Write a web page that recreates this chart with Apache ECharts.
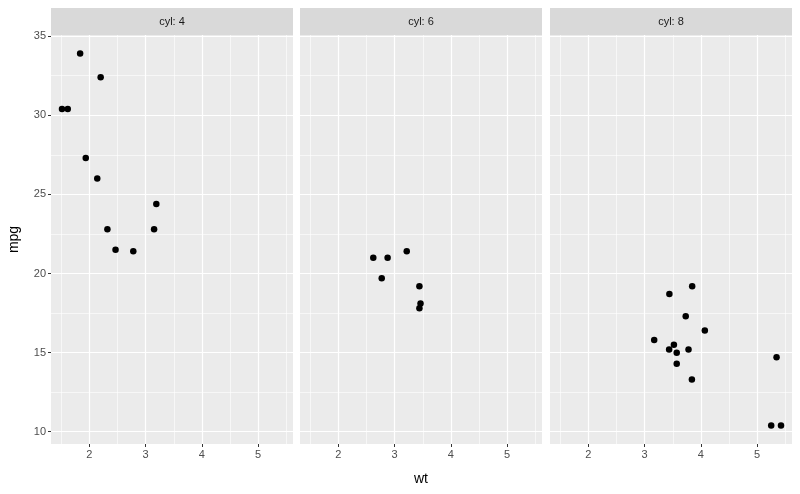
<!DOCTYPE html>
<html style="height: 100%">
<head>
    <meta charset="utf-8">
</head>
<body style="height: 100%; margin: 0">
    <div id="container" style="width: 800px; height: 494px"></div>
    <script src="https://cdn.jsdelivr.net/npm/echarts@6/dist/echarts.min.js"></script>
    <script type="text/javascript">
        // mtcars: weight and mpg, split by cylinder count
        var cylLevels = [4, 6, 8];
        var wt4 = [2.320, 3.190, 3.150, 2.200, 1.615, 1.835, 2.465, 1.935, 2.140, 1.513, 2.780];
        var mpg4 = [22.8, 24.4, 22.8, 32.4, 30.4, 33.9, 21.5, 27.3, 26.0, 30.4, 21.4];
        var wt6 = [2.620, 2.875, 3.215, 3.460, 3.440, 3.440, 2.770];
        var mpg6 = [21.0, 21.0, 21.4, 18.1, 19.2, 17.8, 19.7];
        var wt8 = [3.440, 3.570, 4.070, 3.730, 3.780, 5.250, 5.424, 5.345, 3.520, 3.435, 3.840, 3.845, 3.170, 3.570];
        var mpg8 = [18.7, 14.3, 16.4, 17.3, 15.2, 10.4, 10.4, 14.7, 15.5, 15.2, 13.3, 19.2, 15.8, 15.0];
        var xBreaks = [2, 3, 4, 5];
        var xMinor = [1.5, 2.5, 3.5, 4.5, 5.5];
        var yBreaks = [10, 15, 20, 25, 30, 35];
        var yMinor = [12.5, 17.5, 22.5, 27.5, 32.5];
        var xRange = [1.3175, 5.6195];
        var yRange = [9.225, 35.075];

        (function () {
            var wts = [wt4, wt6, wt8];
            var mpgs = [mpg4, mpg6, mpg8];

            var lefts = [51, 300, 550];
            var panelW = 242;
            var panelTop = 35, panelBottom = 444, stripTop = 8;

            var grids = [], xAxes = [], yAxes = [], series = [], graphics = [];
            lefts.forEach(function (l, i) {
                grids.push({
                    left: l, width: panelW, top: panelTop, height: panelBottom - panelTop,
                    show: true, backgroundColor: '#EBEBEB', borderWidth: 0
                });
                xAxes.push({
                    gridIndex: i, type: 'value', min: xRange[0], max: xRange[1],
                    axisLine: { show: false },
                    splitLine: { show: false },
                    axisTick: { show: true, customValues: xBreaks, length: 3, lineStyle: { color: '#333333' } },
                    axisLabel: { customValues: xBreaks, color: '#4D4D4D', fontSize: 11, fontFamily: 'Liberation Sans', margin: 5 },
                    name: i === 1 ? 'wt' : '', nameLocation: 'middle', nameGap: 28,
                    nameTextStyle: { fontSize: 14, color: '#000', fontFamily: 'Liberation Sans' }
                });
                yAxes.push({
                    gridIndex: i, type: 'value', min: yRange[0], max: yRange[1],
                    axisLine: { show: false },
                    splitLine: { show: false },
                    axisTick: { show: i === 0, customValues: yBreaks, length: 3, lineStyle: { color: '#333333' } },
                    axisLabel: { show: i === 0, customValues: yBreaks, color: '#4D4D4D', fontSize: 11, fontFamily: 'Liberation Sans', margin: 5 },
                    name: i === 0 ? 'mpg' : '', nameLocation: 'middle', nameGap: 30,
                    nameTextStyle: { fontSize: 14, color: '#000', fontFamily: 'Liberation Sans' }
                });
                var lines = [];
                xMinor.forEach(function (v) { lines.push({ xAxis: v, lineStyle: { width: 0.6 } }); });
                yMinor.forEach(function (v) { lines.push({ yAxis: v, lineStyle: { width: 0.6 } }); });
                xBreaks.forEach(function (v) { lines.push({ xAxis: v, lineStyle: { width: 1.2 } }); });
                yBreaks.forEach(function (v) { lines.push({ yAxis: v, lineStyle: { width: 1.2 } }); });
                series.push({
                    type: 'scatter', xAxisIndex: i, yAxisIndex: i, data: [], z: 1, silent: true,
                    markLine: {
                        silent: true, symbol: 'none', label: { show: false }, animation: false,
                        lineStyle: { color: '#FFFFFF', type: 'solid' },
                        data: lines
                    }
                });
                series.push({
                    type: 'scatter', xAxisIndex: i, yAxisIndex: i, z: 5,
                    symbolSize: 6.5, itemStyle: { color: '#000000', opacity: 1 },
                    data: wts[i].map(function (w, k) { return [w, mpgs[i][k]]; })
                });
                graphics.push({
                    type: 'rect', shape: { x: l, y: stripTop, width: panelW, height: panelTop - stripTop },
                    style: { fill: '#D9D9D9' }
                });
                graphics.push({
                    type: 'text', x: l + panelW / 2, y: (stripTop + panelTop) / 2,
                    style: {
                        text: 'cyl: ' + cylLevels[i], fill: '#1A1A1A', fontSize: 11,
                        fontFamily: 'Liberation Sans', align: 'center', verticalAlign: 'middle'
                    }
                });
            });

            var myChart = echarts.init(document.getElementById('container'));
            myChart.setOption({
                animation: false,
                backgroundColor: '#FFFFFF',
                grid: grids,
                xAxis: xAxes,
                yAxis: yAxes,
                series: series,
                graphic: graphics
            });
        })();
    </script>
</body>
</html>
